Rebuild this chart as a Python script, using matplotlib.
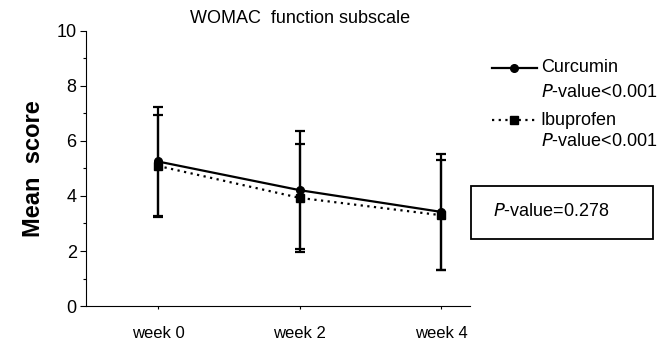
import matplotlib.pyplot as plt
from matplotlib.lines import Line2D
from matplotlib.ticker import MultipleLocator

plt.rcParams['font.family'] = ['Liberation Sans', 'DejaVu Sans']

weeks = ["week 0", "week 2", "week 4"]
curcumin = [5.25, 4.21, 3.42]
curcumin_err = [1.98, 2.14, 2.10]
ibuprofen = [5.09, 3.93, 3.30]
ibuprofen_err = [1.84, 1.97, 2.00]

x = list(range(len(weeks)))

fig = plt.figure(figsize=(6.7, 3.44), dpi=100)
ax = fig.add_axes([0.128, 0.110, 0.573, 0.801])

ax.errorbar(x, ibuprofen, yerr=ibuprofen_err, color="black", ls=(0, (1, 2)),
            lw=1.6, marker="s", ms=6, capsize=3.5, capthick=1.6, elinewidth=1.6)
ax.errorbar(x, curcumin, yerr=curcumin_err, color="black", ls="-",
            lw=1.6, marker="o", ms=5.5, capsize=3.5, capthick=1.6, elinewidth=1.6)

ax.set_xlim(-0.51, 2.2)
ax.set_ylim(0, 10)
ax.set_xticks(x)
ax.set_xticklabels(weeks, fontsize=12)
ax.yaxis.set_major_locator(MultipleLocator(2))
ax.yaxis.set_minor_locator(MultipleLocator(1))
ax.tick_params(axis="y", which="major", length=4.5, width=0.8, labelsize=13, pad=2)
ax.tick_params(axis="y", which="minor", length=2.5, width=0.8)
ax.tick_params(axis="x", length=2.5, width=0.8, pad=12)
for s in ["top", "right"]:
    ax.spines[s].set_visible(False)

ax.set_ylabel("Mean  score", fontsize=17, fontweight="bold", labelpad=8)
fig.text(0.448, 0.945, "WOMAC  function subscale", fontsize=13, ha="center", va="center")

# legend drawn by hand so the handle sits on the first text line
fig.add_artist(Line2D([0.734, 0.7675, 0.801], [0.803, 0.803, 0.803], transform=fig.transFigure,
                      color="black", lw=1.6, marker="o", ms=5.5, markevery=[1]))
fig.add_artist(Line2D([0.734, 0.7675, 0.801], [0.651, 0.651, 0.651], transform=fig.transFigure,
                      color="black", lw=1.6, ls=(0, (1, 2)), marker="s", ms=6, markevery=[1]))
fig.text(0.807, 0.803, "Curcumin", fontsize=13, va="center")
fig.text(0.807, 0.730, "$P$-value<0.001", fontsize=13, va="center")
fig.text(0.807, 0.651, "Ibuprofen", fontsize=13, va="center")
fig.text(0.807, 0.588, "$P$-value<0.001", fontsize=13, va="center")

fig.text(0.736, 0.385, "$P$-value=0.278", fontsize=13, va="center", ha="left")
fig.patches.append(plt.Rectangle((0.703, 0.305), 0.272, 0.155, transform=fig.transFigure,
                                 fill=False, ec="black", lw=1.3))

fig.savefig("out.png", dpi=100)
